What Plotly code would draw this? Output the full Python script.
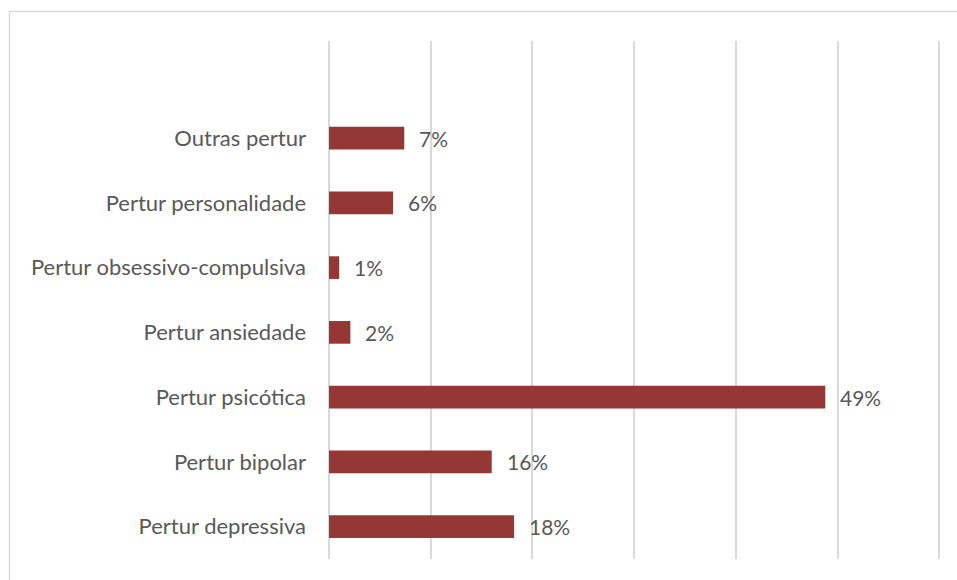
import plotly.graph_objects as go

categories = ["Pertur depressiva", "Pertur bipolar", "Pertur psicótica", "Pertur ansiedade",
              "Pertur obsessivo-compulsiva", "Pertur personalidade", "Outras pertur"]
values = [0.182, 0.160, 0.488, 0.021, 0.010, 0.063, 0.074]
labels = ["18%", "16%", "49%", "2%", "1%", "6%", "7%"]
positions = list(range(len(categories)))

FONT = "Lato"
TEXT = "#595959"
BAR = "#953735"
GRID = "#D9D9D9"

fig = go.Figure()
fig.add_trace(go.Bar(
    x=values, y=positions, orientation="h",
    marker=dict(color=BAR, line=dict(width=0)),
    width=0.35, hoverinfo="skip",
))

for v, p, t in zip(values, positions, labels):
    fig.add_annotation(x=v, y=p, text=t, showarrow=False, xanchor="left",
                       xshift=13, yshift=0,
                       font=dict(family=FONT, size=21, color=TEXT))

fig.add_shape(type="rect", xref="paper", yref="paper",
              x0=-0.5064, x1=1.03, y0=-0.07, y1=1.057,
              line=dict(color=GRID, width=1.5), fillcolor="rgba(0,0,0,0)", layer="below")

fig.update_layout(
    width=957, height=580,
    margin=dict(l=324, r=12, t=41, b=21, pad=0),
    paper_bgcolor="white", plot_bgcolor="white",
    showlegend=False,
    font=dict(family=FONT, color=TEXT, size=22),
    xaxis=dict(range=[-0.00492, 0.6057], dtick=0.1, tick0=0, showgrid=True,
               gridcolor=GRID, gridwidth=1.5, showticklabels=False,
               zeroline=False, showline=False, ticks=""),
    yaxis=dict(range=[-0.5, 7.5], tickvals=positions, ticktext=categories,
               showgrid=False, zeroline=False, showline=False, ticks="",
               ticklabelstandoff=17,
               tickfont=dict(family=FONT, size=22, color=TEXT)),
)

fig.write_html("out.html")
